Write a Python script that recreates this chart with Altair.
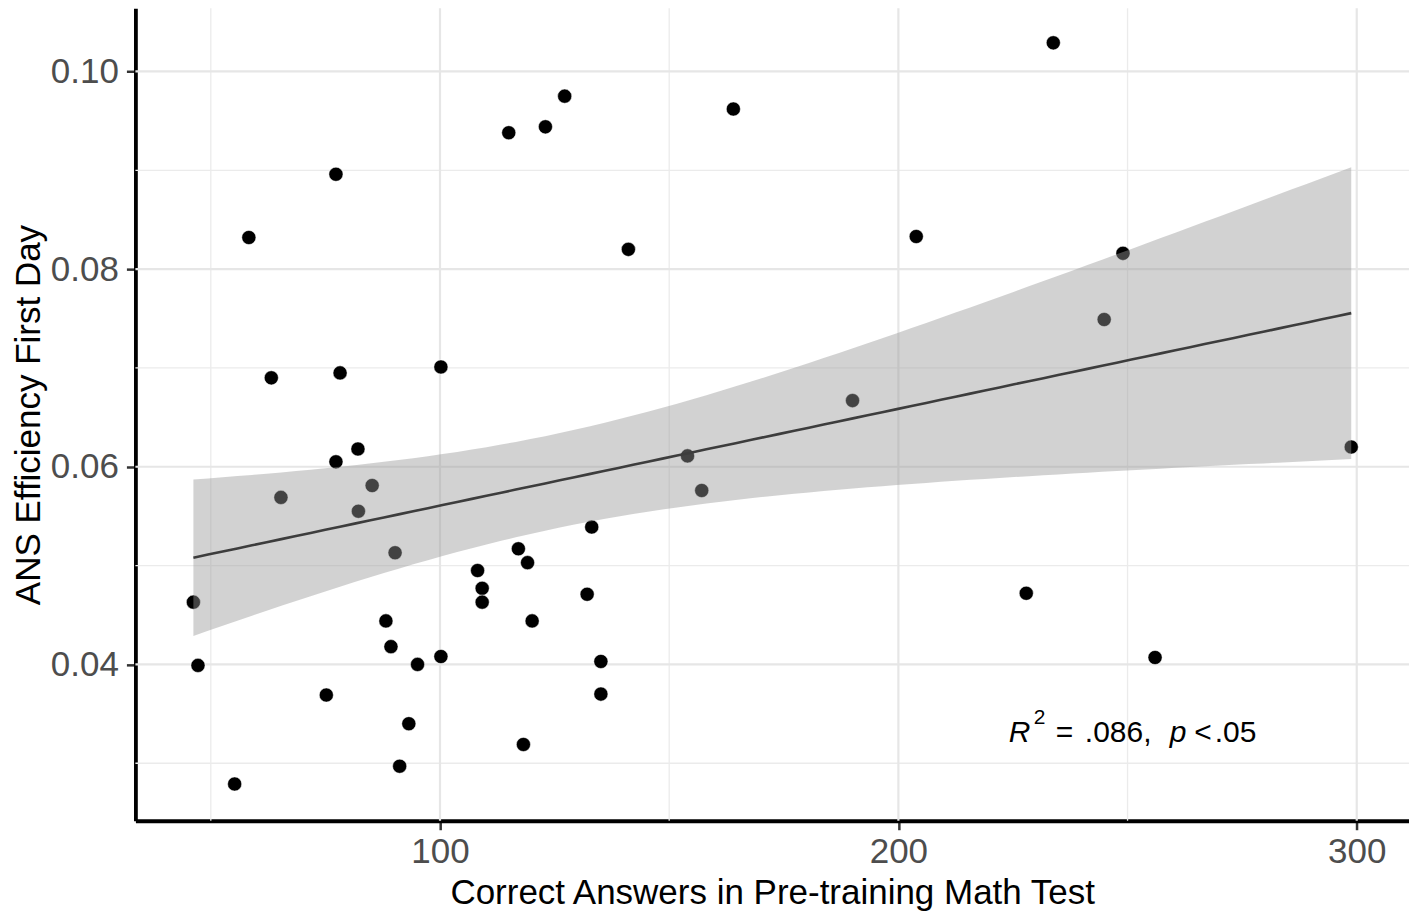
import altair as alt
import numpy as np
import pandas as pd

# ---- data ----
math_correct = [46.2, 47.2, 55.2, 58.3, 63.2, 65.3, 75.2, 77.3, 77.3, 78.2,
                82.1, 82.2, 85.2, 88.2, 89.3, 90.2, 91.2, 93.2, 95.1, 100.2,
                100.2, 108.2, 109.2, 109.2, 115.0, 117.1, 118.2, 119.1, 120.1, 123.0,
                127.2, 132.1, 133.1, 135.1, 135.1, 141.1, 154.0, 157.1, 164.0, 190.0,
                203.9, 227.9, 233.8, 244.9, 249.0, 256.0, 298.8]
ans_eff = [0.0463, 0.0399, 0.0279, 0.0832, 0.0690, 0.0569, 0.0369, 0.0896, 0.0605, 0.0695,
           0.0618, 0.0555, 0.0581, 0.0444, 0.0418, 0.0513, 0.0297, 0.0340, 0.0400, 0.0701,
           0.0408, 0.0495, 0.0477, 0.0463, 0.0938, 0.0517, 0.0319, 0.0503, 0.0444, 0.0944,
           0.0975, 0.0471, 0.0539, 0.0403, 0.0370, 0.0820, 0.0611, 0.0576, 0.0962, 0.0667,
           0.0833, 0.0472, 0.1029, 0.0749, 0.0816, 0.0407, 0.0620]

x_major = [100, 200, 300]
x_minor = [50, 150, 250]
y_major = [0.04, 0.06, 0.08, 0.10]
y_minor = [0.03, 0.05, 0.07, 0.09]

# annotation pieces (data coordinates)
ann_italic = pd.DataFrame({"x": [224.09, 259.19], "y": [0.03220, 0.03220], "t": ["R", "p"]})
ann_normal = pd.DataFrame({"x": [234.35, 240.68, 264.53, 269.02], "y": [0.03220] * 4,
                           "t": ["=", ".086,", "<", ".05"]})
ann_sup = pd.DataFrame({"x": [229.54], "y": [0.03396], "t": ["2"]})

X_TITLE = "Correct Answers in Pre-training Math Test"
Y_TITLE = "ANS Efficiency First Day"

# ---- linear fit with confidence band (geom_smooth(method="lm")) ----
xa = np.array(math_correct)
ya = np.array(ans_eff)
n = len(xa)
b1, b0 = np.polyfit(xa, ya, 1)
resid = ya - (b0 + b1 * xa)
s = np.sqrt(np.sum(resid ** 2) / (n - 2))
sxx = np.sum((xa - xa.mean()) ** 2)
t_crit = 1.679  # t(0.95, df=45): band width as drawn in the reference
xg = np.linspace(xa.min(), xa.max(), 80)
fit = b0 + b1 * xg
se = s * np.sqrt(1.0 / n + (xg - xa.mean()) ** 2 / sxx)
band = pd.DataFrame({"x": xg, "fit": fit, "lo": fit - t_crit * se, "hi": fit + t_crit * se})

pts = pd.DataFrame({"x": math_correct, "y": ans_eff})

FONT = "Liberation Sans"
xs = alt.Scale(domain=[33.55, 311.4], nice=False, zero=False)
ys = alt.Scale(domain=[0.024182, 0.106390], nice=False, zero=False)

x_axis = alt.Axis(values=x_major, grid=False, title=X_TITLE, format="d",
                  domainColor="black", domainWidth=3.8, tickColor="#333333",
                  tickWidth=2.5, tickSize=9, labelFont=FONT, labelFontSize=35,
                  labelColor="#4D4D4D", labelPadding=5, titleFont=FONT,
                  titleFontSize=35, titleFontWeight="normal", titleColor="black",
                  titlePadding=6)
y_axis = alt.Axis(values=y_major, grid=False, title=Y_TITLE, format=".2f",
                  domainColor="black", domainWidth=3.8, tickColor="#333333",
                  tickWidth=2.5, tickSize=9, labelFont=FONT, labelFontSize=35,
                  labelColor="#4D4D4D", labelPadding=8, titleFont=FONT,
                  titleFontSize=35, titleFontWeight="normal", titleColor="black",
                  titlePadding=4)

def vrules(vals, w, c):
    return alt.Chart(pd.DataFrame({"v": vals})).mark_rule(color=c, strokeWidth=w).encode(
        x=alt.X("v:Q", scale=xs, axis=x_axis))

def hrules(vals, w, c):
    return alt.Chart(pd.DataFrame({"v": vals})).mark_rule(color=c, strokeWidth=w).encode(
        y=alt.Y("v:Q", scale=ys, axis=y_axis))

grid = (vrules(x_minor, 1.3, "#EBEBEB") + hrules(y_minor, 1.3, "#EBEBEB")
        + vrules(x_major, 2.2, "#E6E6E6") + hrules(y_major, 2.2, "#E6E6E6"))

points = alt.Chart(pts).mark_circle(size=200, color="black", opacity=1,
                                    stroke="white", strokeWidth=0.5).encode(
    x=alt.X("x:Q", scale=xs, axis=x_axis),
    y=alt.Y("y:Q", scale=ys, axis=y_axis))

area = alt.Chart(band).mark_area(color="#999999", opacity=0.44).encode(
    x=alt.X("x:Q", scale=xs, axis=x_axis),
    y=alt.Y("lo:Q", scale=ys, axis=y_axis),
    y2="hi:Q")

line = alt.Chart(band).mark_line(color="#3D3D3D", strokeWidth=2.6).encode(
    x=alt.X("x:Q", scale=xs, axis=x_axis),
    y=alt.Y("fit:Q", scale=ys, axis=y_axis))

def texts(df, size, style):
    return alt.Chart(df).mark_text(align="left", baseline="alphabetic", font=FONT,
                                   fontSize=size, fontStyle=style, color="black").encode(
        x=alt.X("x:Q", scale=xs, axis=x_axis),
        y=alt.Y("y:Q", scale=ys, axis=y_axis),
        text="t:N")

ann = texts(ann_italic, 30, "italic") + texts(ann_normal, 30, "normal") + texts(ann_sup, 21, "normal")

chart = alt.layer(grid, points, area, line, ann).properties(
    width=1274.5, height=813,
    autosize=alt.AutoSizeParams(type="none"),
    padding={"left": 127.5, "top": 0, "right": 0, "bottom": 90},
).configure_view(stroke=None)

chart.save("out.html", embed_options={"renderer": "svg", "actions": False})
